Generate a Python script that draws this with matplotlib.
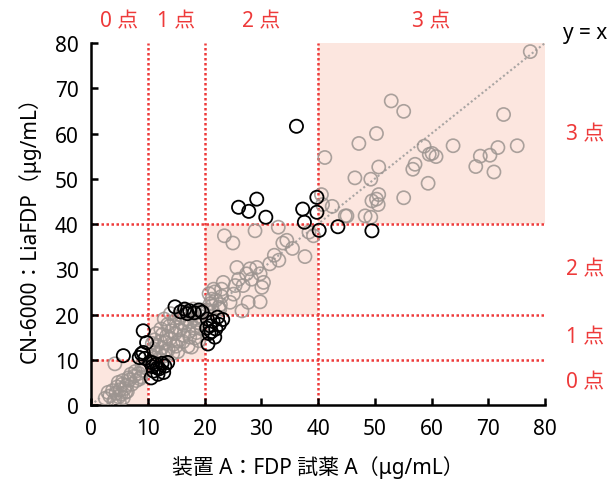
import matplotlib
matplotlib.use("Agg")
import matplotlib.pyplot as plt
from matplotlib.patches import Rectangle

plt.rcParams['font.family'] = ['Noto Sans', 'Noto Sans CJK JP', 'DejaVu Sans']

# ---- data ----
# concordant points (gray)
gray_x = [
    # 0-10 box
    2.5, 3.3, 3.8, 4.2, 4.4, 4.6, 4.9, 5.1, 5.3, 5.5, 5.7, 5.9, 6.1, 6.3, 4.0, 4.8, 5.6, 6.4,
    6.8, 7.2, 7.6, 8.0, 8.4, 8.8, 9.2, 9.6, 7.0, 7.8, 8.6, 4.2, 3.0, 6.6, 5.0, 9.0,
    # 10-20 box
    10.6, 11.0, 11.3, 11.6, 12.0, 12.2, 12.5, 12.8, 13.0, 13.3, 13.6, 13.9, 14.2, 14.5, 14.8,
    15.1, 15.4, 15.7, 16.0, 16.3, 16.6, 16.9, 17.2, 17.5, 17.8, 18.1, 18.4, 18.7, 19.0, 19.3, 19.6,
    11.2, 11.9, 12.6, 13.2, 13.8, 14.4, 15.0, 15.6, 16.2, 16.8, 17.4, 18.0, 18.6, 19.2,
    10.8, 12.3, 13.5, 14.7, 15.9, 17.1, 18.3, 19.5, 11.5, 14.0, 16.5, 19.0, 12.9, 15.3, 17.7,
    # 20-40 box
    20.5, 21.0, 21.5, 22.0, 22.5, 23.0, 20.8, 21.8, 22.8, 21.3, 21.6, 21.3, 22.7, 24.5, 23.3,
    25.4, 26.8, 23.0, 25.1, 27.7, 29.8, 26.6, 25.7, 28.0, 29.2, 29.8, 27.4, 26.0, 28.3, 30.4,
    30.1, 23.5, 25.0, 28.9, 33.0, 33.8, 32.3, 33.1, 37.7, 39.2, 38.4, 35.5, 31.5, 34.5,
    # 40-80 box
    77.4, 52.9, 55.1, 72.7, 50.3, 47.2, 41.2, 58.7, 60.1, 59.6, 60.8, 63.8, 75.1, 71.7, 70.3,
    68.6, 67.8, 71.0, 57.1, 56.7, 50.7, 46.5, 49.3, 59.4, 50.7, 55.1, 50.3, 49.5, 50.6, 42.5,
    45.1, 48.3, 49.3, 40.6, 40.8, 44.8,
]
gray_y = [
    # 0-10 box
    1.5, 2.0, 3.2, 1.2, 2.6, 4.0, 1.8, 3.4, 2.4, 4.6, 1.6, 3.6, 2.8, 4.4, 0.8, 5.0, 5.4, 3.0,
    5.6, 4.6, 6.4, 5.4, 7.0, 6.2, 7.6, 8.2, 6.8, 7.4, 5.8, 9.1, 2.8, 6.0, 0.6, 8.8,
    # 10-20 box
    11.0, 12.4, 10.4, 13.2, 11.6, 14.0, 12.6, 10.8, 13.8, 15.2, 12.2, 14.6, 16.4, 13.4, 15.8,
    17.2, 14.2, 16.6, 18.0, 15.4, 17.6, 19.0, 16.2, 18.4, 20.0, 17.0, 19.2, 18.2, 20.4, 19.6, 21.0,
    14.4, 10.2, 15.6, 12.0, 17.4, 11.4, 13.0, 19.2, 14.0, 20.6, 15.0, 21.2, 16.0, 18.0,
    13.6, 16.8, 17.8, 18.6, 19.8, 13.0, 14.8, 16.8, 15.8, 20.2, 21.0, 14.2, 19.0, 11.8, 12.8,
    # 20-40 box
    21.0, 22.4, 20.6, 23.2, 21.6, 24.0, 24.6, 25.0, 22.2, 23.4, 25.6, 21.9, 21.2, 22.7, 27.1,
    26.4, 26.4, 25.6, 24.5, 22.7, 22.8, 20.8, 30.4, 30.1, 30.4, 29.0, 29.0, 27.8, 27.8, 27.1,
    26.0, 37.4, 35.8, 38.5, 39.3, 35.8, 33.1, 32.0, 32.8, 37.4, 38.2, 34.6, 31.2, 36.4,
    # 40-80 box
    78.1, 67.2, 64.9, 64.2, 60.0, 57.8, 54.7, 57.2, 55.6, 55.4, 54.9, 57.3, 57.3, 56.9, 55.2,
    55.0, 52.7, 51.5, 53.2, 52.1, 52.6, 50.2, 49.9, 49.0, 46.5, 45.8, 45.5, 45.1, 44.3, 43.9,
    41.8, 41.8, 41.5, 46.5, 44.3, 41.8,
]

# discordant points (black)
black_x = [
    5.7, 8.9, 9.2, 9.8, 9.2, 8.5, 9.5,
    10.4, 10.8, 11.5, 12.0, 12.5, 11.0, 13.0, 13.5, 11.8, 10.6, 12.8, 10.9, 11.7,
    14.8, 15.8, 16.5, 17.4, 18.2, 19.0, 19.6, 17.0,
    20.5, 21.0, 21.5, 22.0, 20.8, 22.6, 23.2, 21.8, 20.6, 22.3, 21.2, 20.4,
    26.0, 27.8, 29.2, 30.8, 37.3, 37.6, 36.2, 39.8, 39.8,
    43.5, 49.5, 40.2,
]
black_y = [
    10.9, 11.3, 16.4, 13.8, 11.6, 10.5, 10.3,
    9.5, 8.5, 9.0, 8.0, 9.2, 7.5, 8.6, 9.4, 6.8, 6.0, 7.2, 9.3, 8.2,
    21.7, 20.6, 21.2, 20.8, 20.4, 21.0, 20.5, 20.2,
    19.0, 17.5, 18.5, 16.8, 15.8, 17.8, 18.9, 15.0, 13.5, 19.4, 16.2, 17.0,
    43.7, 42.8, 45.5, 41.5, 43.3, 40.4, 61.6, 45.9, 42.6,
    39.4, 38.5, 38.6,
]

bounds = [0, 10, 20, 40, 80]
score_labels = ['0 点', '1 点', '2 点', '3 点']

RED = '#ee3a3a'
PINK = '#fce6df'
GRAY = '#9c9490'
FS = 15

fig = plt.figure(figsize=(6.08, 4.89), dpi=100)
ax = fig.add_axes([0.1497, 0.1697, 0.7467, 0.7403])

# shaded concordance boxes
for lo, hi in zip(bounds[:-1], bounds[1:]):
    ax.add_patch(Rectangle((lo, lo), hi - lo, hi - lo, facecolor=PINK,
                           edgecolor='none', zorder=0))

# red dotted cut-off lines
for b in bounds[1:-1]:
    ax.plot([b, b], [0, 80], linestyle=(0, (1, 1.0)), color=RED, lw=1.8, zorder=1)
    ax.plot([0, 80], [b, b], linestyle=(0, (1, 1.0)), color=RED, lw=1.8, zorder=1)

# y = x
ax.plot([0, 80], [0, 80], linestyle=(0, (1, 1.2)), color='#a9a5a3', lw=1.5, zorder=2)

ax.scatter(gray_x, gray_y, s=90, facecolors='none', edgecolors=GRAY,
           linewidths=1.2, alpha=0.85, zorder=3)
ax.scatter(black_x, black_y, s=90, facecolors='none', edgecolors='black',
           linewidths=1.3, zorder=4)

ax.set_xlim(0, 80)
ax.set_ylim(0, 80)
ax.set_xticks(range(0, 81, 10))
ax.set_yticks(range(0, 81, 10))
for s in ['top', 'right']:
    ax.spines[s].set_visible(False)
for s in ['left', 'bottom']:
    ax.spines[s].set_linewidth(1.8)
ax.tick_params(direction='in', length=5, width=1.8, labelsize=FS, pad=9, colors='black')
ax.set_xlabel('装置 A：FDP 試薬 A（μg/mL）', fontsize=FS, labelpad=12)
ax.set_ylabel('CN-6000：LiaFDP（μg/mL）', fontsize=FS, labelpad=10)

# score labels
for lo, hi, lab in zip(bounds[:-1], bounds[1:], score_labels):
    mid = (lo + hi) / 2
    ax.text(mid, 84.9, lab, color=RED, fontsize=FS, ha='center', va='center', clip_on=False)
    ax.text(87.0, mid, lab, color=RED, fontsize=FS, ha='center', va='center', clip_on=False)
ax.text(87.0, 82.4, 'y = x', color='black', fontsize=FS, ha='center', va='center', clip_on=False)

fig.savefig('out.png', dpi=100)
